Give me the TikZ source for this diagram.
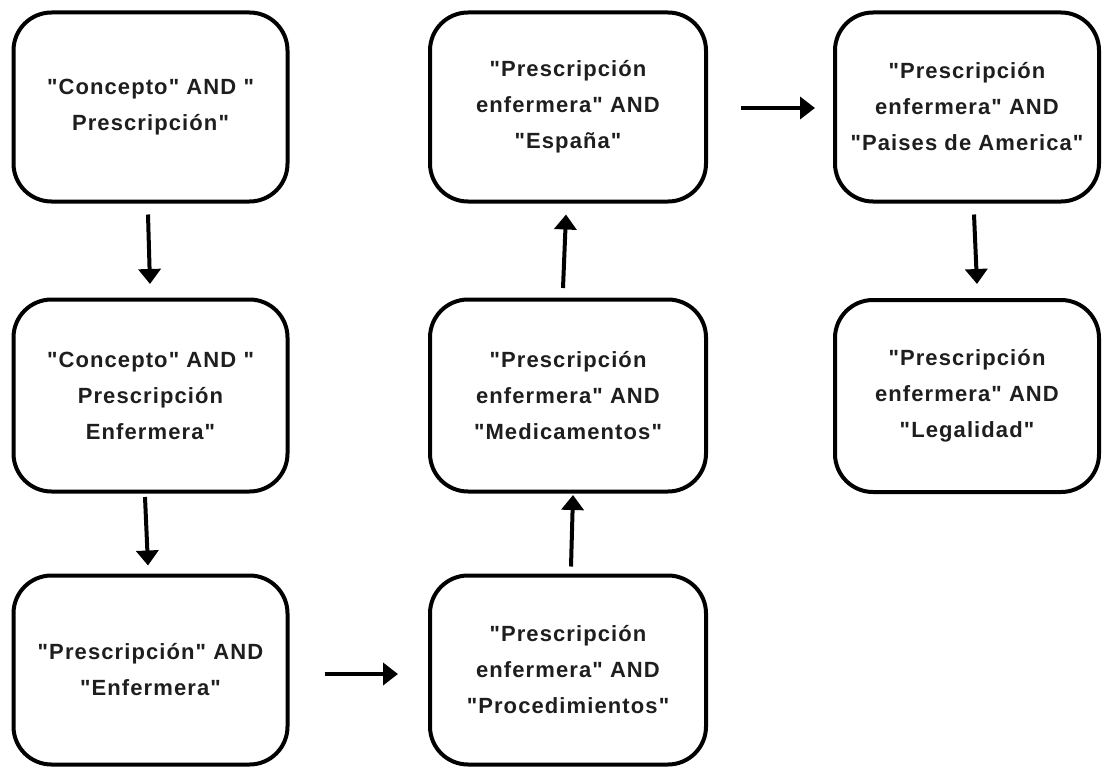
\documentclass[tikz,border=0pt]{standalone}
\usepackage{fontspec}
\setmainfont{Liberation Sans}[Ligatures=TeXOff]
\usetikzlibrary{arrows.meta}
\definecolor{txt}{RGB}{30,30,30}
\begin{document}
\begin{tikzpicture}[x=1pt,y=-1pt,
  box/.style={draw=black, line width=4pt, rounded corners=38pt, minimum width=274pt, minimum height=189pt, align=center, inner sep=0pt, text=txt, font=\addfontfeatures{LetterSpace=5}\bfseries\fontsize{22}{36}\selectfont},
  arr/.style={line width=4pt, -{Triangle[length=15pt,width=22pt]}}]
\useasboundingbox (0,0) rectangle (1102,768);
\node[box] (b1) at (150.5,107) {"Concepto" AND "\\Prescripción"};
\node[box, minimum height=192pt] (b2) at (150.5,395.5) {"Concepto" AND "\\Prescripción\\Enfermera"};
\node[box] (b3) at (150.5,670) {"Prescripción" AND\\"Enfermera"};
\node[box, minimum width=276pt] (b4) at (568,670) {"Prescripción\\enfermera" AND\\"Procedimientos"};
\node[box, minimum width=276pt, minimum height=192pt] (b5) at (568,395.5) {"Prescripción\\enfermera" AND\\"Medicamentos"};
\node[box, minimum width=276pt] (b6) at (568,107) {"Prescripción\\enfermera" AND\\"España"};
\node[box, minimum width=264pt] (b7) at (967,107) {"Prescripción\\enfermera" AND\\"Paises de America"};
\node[box, minimum width=264pt, minimum height=192pt] (b8) at (967,396) {"Prescripción\\enfermera" AND\\"Legalidad"};
\draw[arr] ([shift={(-2.5,11)}]b1.south) -- ([shift={(-0.5,-13.5)}]b2.north);
\draw[arr] ([shift={(-5.5,3.5)}]b2.south) -- ([shift={(-2.5,-8)}]b3.north);
\draw[arr] ([shift={(35,4)}]b3.east) -- ([shift={(-30,4)}]b4.west);
\draw[arr] ([shift={(3,-7)}]b4.north) -- ([shift={(5,1.5)}]b5.south);
\draw[arr] ([shift={(-5,-9.5)}]b5.north) -- ([shift={(-2,11)}]b6.south);
\draw[arr] ([shift={(33,1)}]b6.east) -- ([shift={(-18,1)}]b7.west);
\draw[arr] ([shift={(7,11)}]b7.south) -- ([shift={(10,-14)}]b8.north);
\end{tikzpicture}
\end{document}
